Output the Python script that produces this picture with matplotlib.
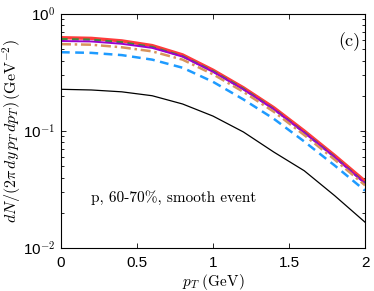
import numpy as np
import matplotlib
matplotlib.use("Agg")
import matplotlib.pyplot as plt
import matplotlib.ticker as ticker

plt.rcParams["mathtext.fontset"] = "cm"
plt.rcParams["font.family"] = "Liberation Sans"

# pT grid (GeV)
pt = [0.0, 0.2, 0.4, 0.6, 0.8, 1.0, 1.2, 1.4, 1.6, 1.8, 2.0]

# spectra
red    = [0.627, 0.619, 0.589, 0.537, 0.447, 0.331, 0.234, 0.158, 0.100, 0.0617, 0.0372]
green  = [0.610, 0.603, 0.573, 0.522, 0.435, 0.324, 0.229, 0.154, 0.0973, 0.0600, 0.0359]
purple = [0.587, 0.582, 0.556, 0.513, 0.432, 0.320, 0.226, 0.153, 0.0966, 0.0596, 0.0355]
orange = [0.552, 0.546, 0.519, 0.479, 0.407, 0.305, 0.216, 0.146, 0.0923, 0.0569, 0.0343]
blue   = [0.471, 0.465, 0.445, 0.407, 0.347, 0.263, 0.186, 0.127, 0.0813, 0.0507, 0.0309]
black  = [0.227, 0.224, 0.216, 0.200, 0.170, 0.134, 0.098, 0.066, 0.0457, 0.0280, 0.0166]

xticks = [0, 0.5, 1, 1.5, 2]
xticklabels = ["0", "0.5", "1", "1.5", "2"]

fig = plt.figure(figsize=(3.74, 2.91), dpi=100)
ax = fig.add_axes([0.163, 0.148, 0.813, 0.804])

ax.plot(pt, red, color="#ff3b3b", lw=2.4, solid_capstyle="butt")
ax.plot(pt, green, color="#3c8a3c", lw=1.6, ls=(0, (3, 2)))
ax.plot(pt, purple, color="#9a00d0", lw=1.4)
ax.plot(pt, orange, color="#d8935c", lw=1.8, ls=(0, (4, 1.5, 1, 1.5)))
ax.plot(pt, blue, color="#1e9bff", lw=1.8, ls=(0, (3.5, 2.2)))
ax.plot(pt, black, color="black", lw=0.9)

ax.set_yscale("log")
ax.set_xlim(0, 2)
ax.set_ylim(1e-2, 1)
ax.set_xticks(xticks)
ax.set_xticklabels(xticklabels)
ax.yaxis.set_major_locator(ticker.LogLocator(base=10))
ax.yaxis.set_major_formatter(ticker.FuncFormatter(lambda v, pos: r"10$^{%d}$" % round(np.log10(v))))
ax.yaxis.set_minor_locator(ticker.LogLocator(base=10, subs=np.arange(2, 10)))
ax.yaxis.set_minor_formatter(ticker.NullFormatter())

ax.tick_params(which="both", direction="in", top=True, right=True, width=0.6)
ax.tick_params(which="major", length=3.5)
ax.tick_params(which="minor", length=2)
ax.tick_params(axis="x", labelsize=11, pad=6)
ax.tick_params(axis="y", labelsize=11, pad=4)
for s in ax.spines.values():
  s.set_linewidth(0.8)

ax.set_xlabel(r"$p_T\ \mathrm{(GeV)}$", fontsize=11, labelpad=1)
ax.set_ylabel(r"$dN/(2\pi\, dy\, p_T\, dp_T)\,\mathrm{(GeV^{-2})}$", fontsize=11.5, labelpad=0)

ax.text(0.2, 0.0267, "p, 60-70%, smooth event", family="cmr10", fontsize=11, va="center")
ax.text(0.985, 0.88, "(c)", family="cmr10", fontsize=13, ha="right", va="center", transform=ax.transAxes)

fig.savefig("out.png", dpi=100)
